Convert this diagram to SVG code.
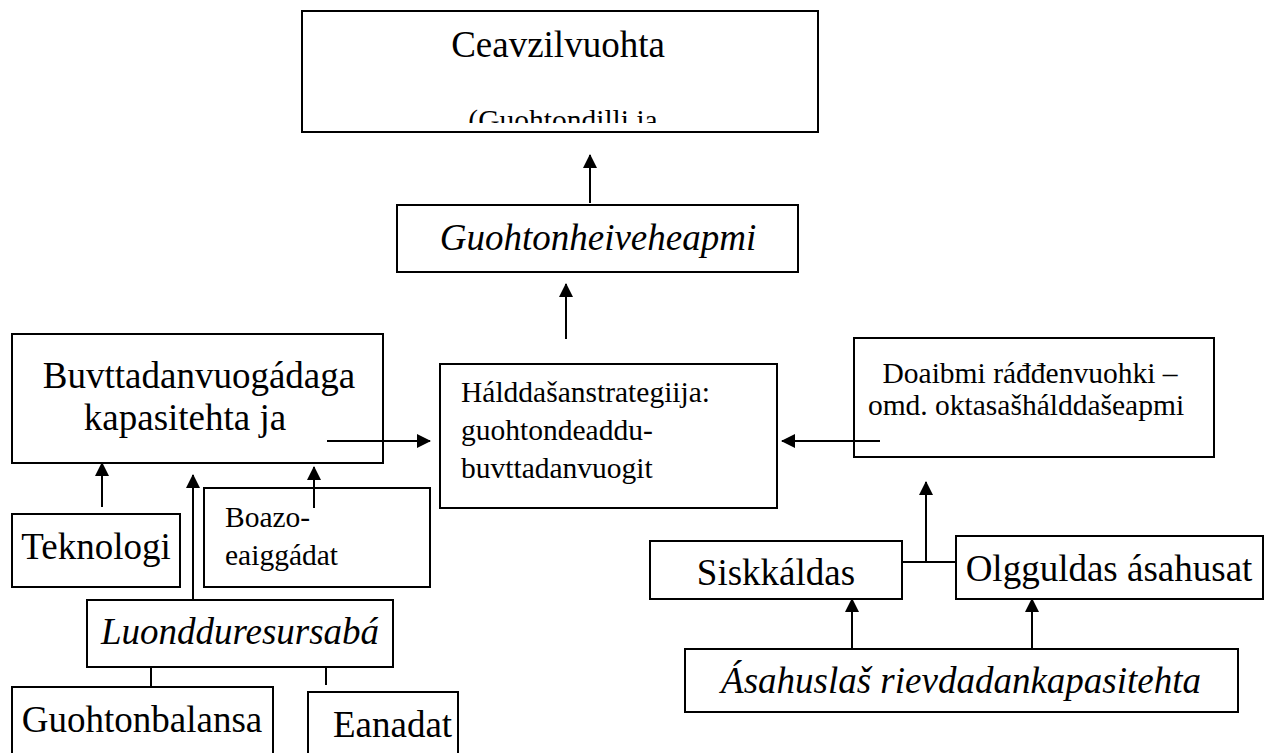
<svg xmlns="http://www.w3.org/2000/svg" width="1268" height="753" viewBox="0 0 1268 753" font-family="'Liberation Serif', 'Times New Roman', 'DejaVu Serif', serif">
<style>
.box{fill:#fff;stroke:#000;stroke-width:2}
.t{font-family:'Liberation Serif', 'Times New Roman', 'DejaVu Serif', serif;fill:#000}
.big{font-size:37px}
.sm{font-size:29.5px}
.it{font-style:italic}
.c{stroke:#000;stroke-width:2;fill:none}
</style>
<defs>
<marker id="ah" markerWidth="14" markerHeight="14" refX="13" refY="7" orient="auto" markerUnits="userSpaceOnUse">
<path d="M0,0 L14,7 L0,14 Z" fill="#000"/>
</marker>
<clipPath id="clipTop"><rect x="303" y="12" width="514" height="111"/></clipPath>
</defs>
<rect width="1268" height="753" fill="#fff"/>
<g id="n-ceavzil">
<rect class="box" x="302" y="11" width="516" height="121"/>
<text class="t big" x="558" y="57" text-anchor="middle">Ceavzilvuohta</text>
<text class="t sm" x="563" y="130" text-anchor="middle" clip-path="url(#clipTop)">(Guohtondilli ja</text>
</g>
<g id="n-heive">
<rect class="box" x="397" y="205" width="401" height="67"/>
<text class="t big it" x="598" y="250" text-anchor="middle">Guohtonheiveheapmi</text>
</g>
<g id="n-buvtta">
<rect class="box" x="12" y="334" width="371" height="129"/>
<text class="t big" x="199" y="388" text-anchor="middle">Buvttadanvuogádaga</text>
<text class="t big" x="185" y="430" text-anchor="middle">kapasitehta ja</text>
</g>
<g id="n-halddas">
<rect class="box" x="440" y="364" width="337" height="144"/>
<text class="t sm" x="461" y="402">Hálddašanstrategiija:</text>
<text class="t sm" x="461" y="440">guohtondeaddu-</text>
<text class="t sm" x="461" y="478">buvttadanvuogit</text>
</g>
<g id="n-doaibmi">
<rect class="box" x="854" y="338" width="360" height="119"/>
<text class="t sm" x="1030" y="383" text-anchor="middle">Doaibmi ráđđenvuohki –</text>
<text class="t sm" x="1026" y="415" text-anchor="middle">omd. oktasašhálddašeapmi</text>
</g>
<g id="n-teknologi">
<rect class="box" x="12" y="514" width="168" height="73"/>
<text class="t big" x="96" y="559" text-anchor="middle">Teknologi</text>
</g>
<g id="n-boazo">
<rect class="box" x="204" y="488" width="226" height="99"/>
<text class="t sm" x="225" y="527">Boazo-</text>
<text class="t sm" x="225" y="565">eaiggádat</text>
</g>
<g id="n-luondd">
<rect class="box" x="87" y="600" width="306" height="67"/>
<text class="t big it" x="240" y="644" text-anchor="middle">Luondduresursabá</text>
</g>
<g id="n-guohtonbalansa">
<rect class="box" x="12" y="687" width="261" height="80"/>
<text class="t big" x="142" y="732" text-anchor="middle">Guohtonbalansa</text>
</g>
<g id="n-eanadat">
<rect class="box" x="308" y="692" width="150" height="80"/>
<text class="t big" x="333" y="737">Eanadat</text>
</g>
<g id="n-siskkaldas">
<rect class="box" x="650" y="541" width="252" height="58"/>
<text class="t big" x="776" y="585" text-anchor="middle">Siskkáldas</text>
</g>
<g id="n-olgguldas">
<rect class="box" x="956" y="536" width="307" height="63"/>
<text class="t big" x="1109" y="581" text-anchor="middle">Olgguldas ásahusat</text>
</g>
<g id="n-asahus">
<rect class="box" x="685" y="649" width="553" height="63"/>
<text class="t big it" x="961" y="693" text-anchor="middle">Ásahuslaš rievdadankapasitehta</text>
</g>
<g id="connectors">
<line class="c" x1="590" y1="203" x2="590" y2="155" marker-end="url(#ah)"/>
<line class="c" x1="566" y1="339" x2="566" y2="284" marker-end="url(#ah)"/>
<line class="c" x1="327" y1="441" x2="430" y2="441" marker-end="url(#ah)"/>
<line class="c" x1="880" y1="441" x2="782" y2="441" marker-end="url(#ah)"/>
<line class="c" x1="926" y1="562" x2="926" y2="482" marker-end="url(#ah)"/>
<line class="c" x1="902" y1="562" x2="956" y2="562"/>
<line class="c" x1="852" y1="648" x2="852" y2="599" marker-end="url(#ah)"/>
<line class="c" x1="1032" y1="648" x2="1032" y2="599" marker-end="url(#ah)"/>
<line class="c" x1="102" y1="507" x2="102" y2="463" marker-end="url(#ah)"/>
<line class="c" x1="193" y1="599" x2="193" y2="475" marker-end="url(#ah)"/>
<line class="c" x1="314" y1="508" x2="314" y2="467" marker-end="url(#ah)"/>
<line class="c" x1="151" y1="667" x2="151" y2="687"/>
<line class="c" x1="326" y1="667" x2="326" y2="685"/>
</g>
</svg>
